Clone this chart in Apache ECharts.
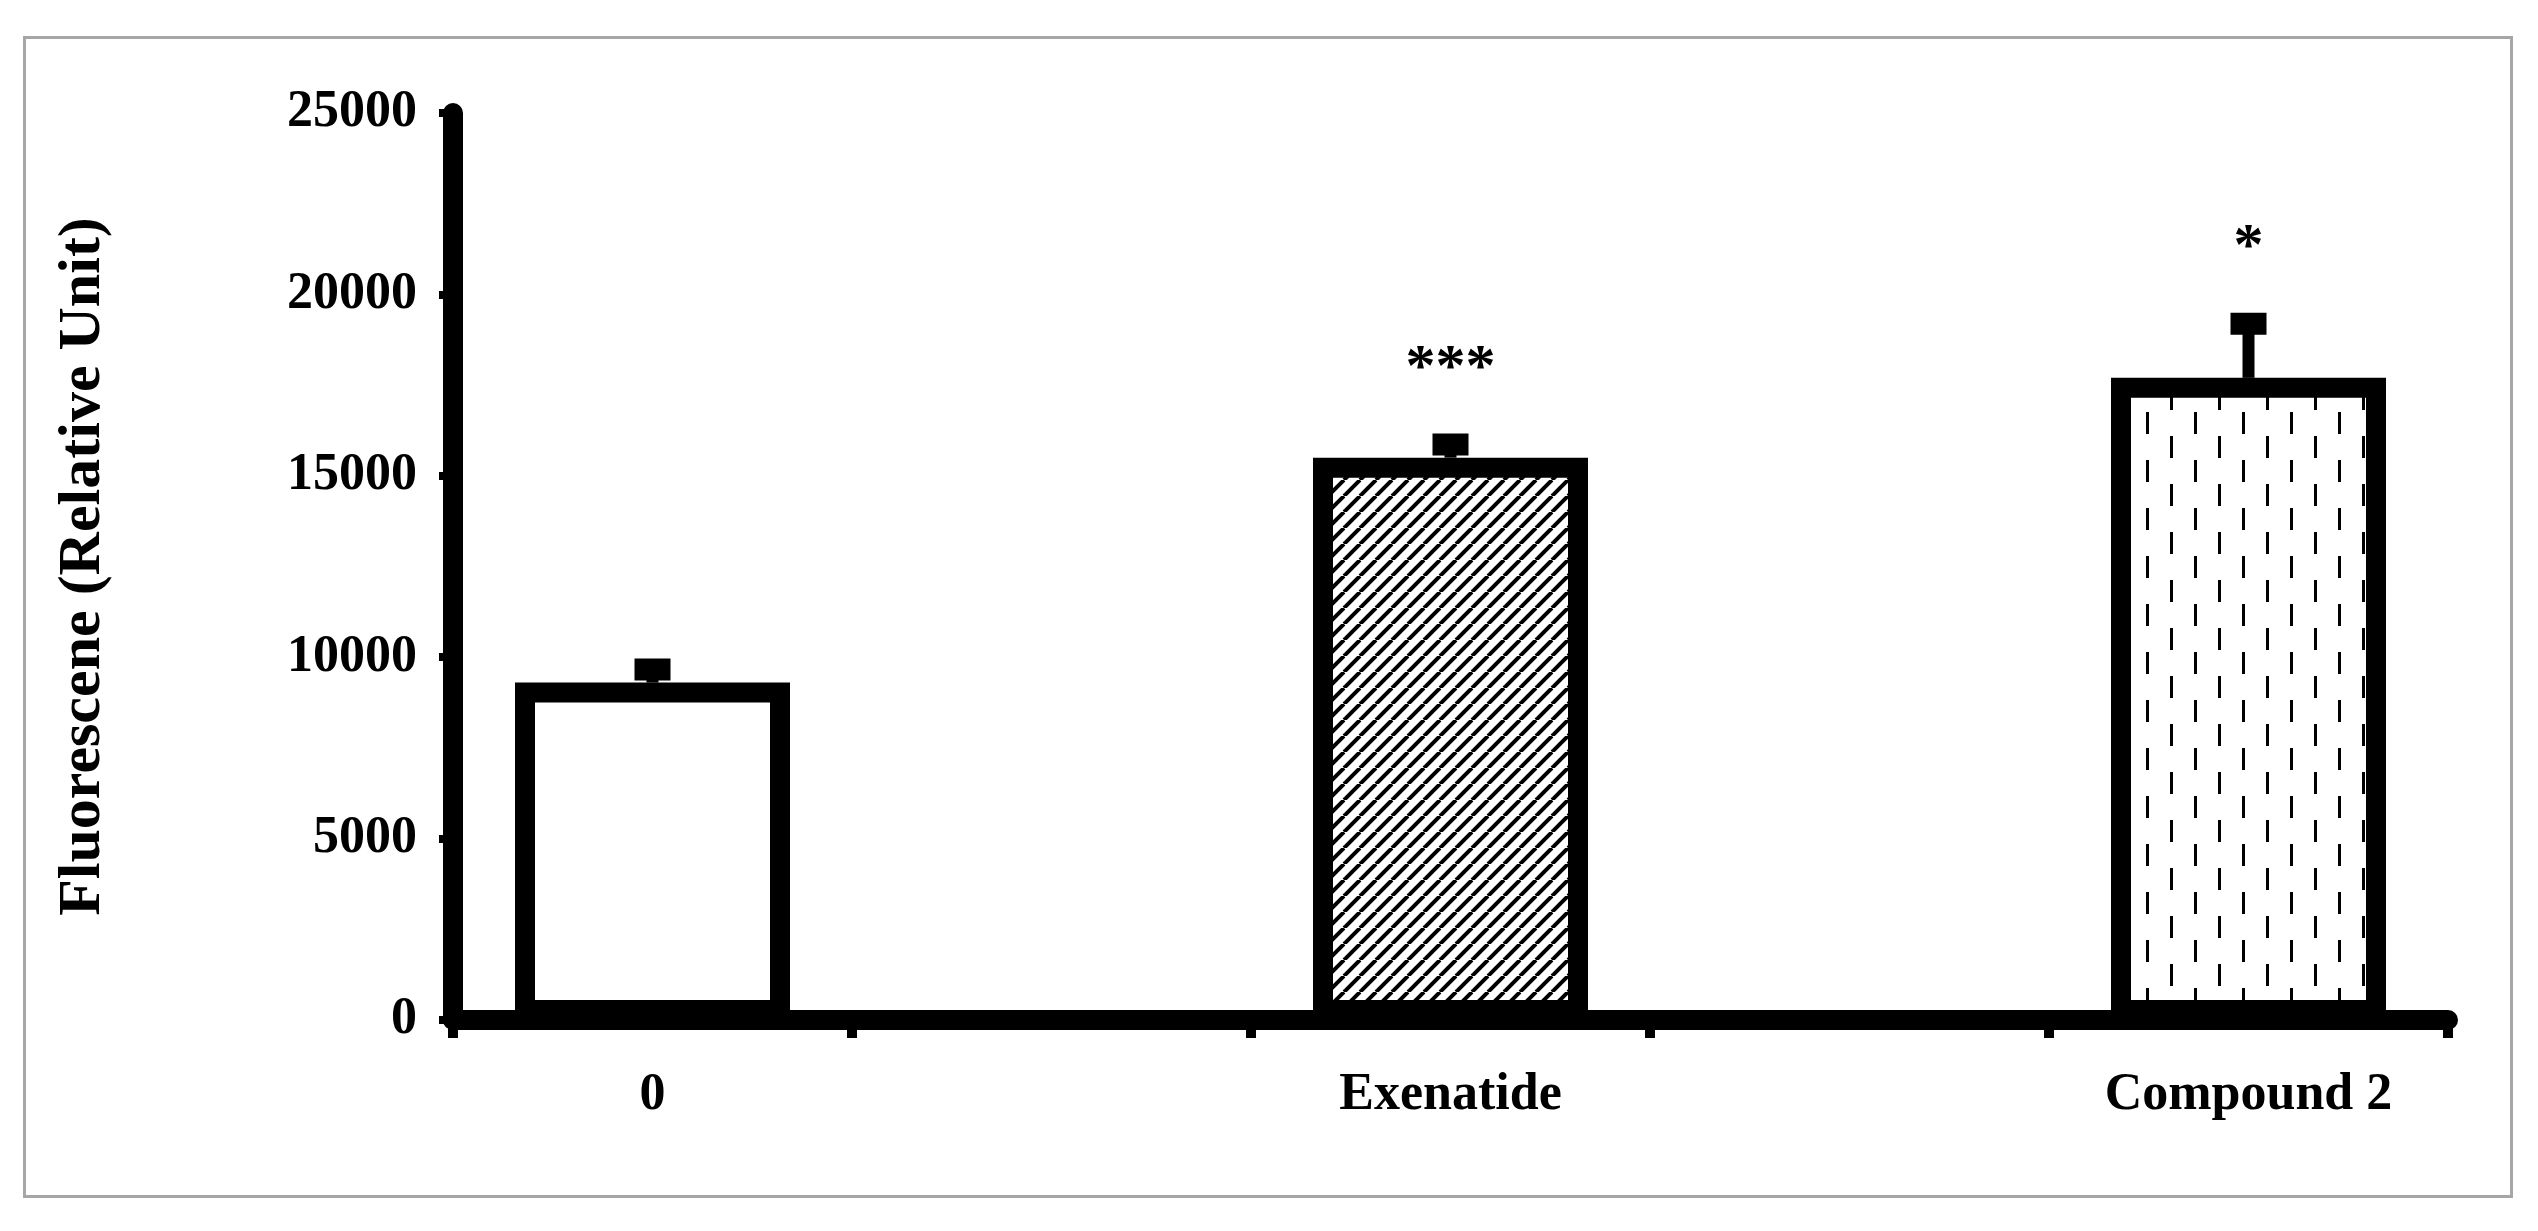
<!DOCTYPE html>
<html>
<head>
<meta charset="utf-8">
<script src="https://cdn.jsdelivr.net/npm/echarts@6/dist/echarts.min.js"></script>
<style>
  html, body { margin: 0; padding: 0; background: #fff; }
  #frame { position: absolute; left: 23px; top: 36px; width: 2484px; height: 1156px; border: 3px solid #a6a6a6; }
  #chart { position: absolute; left: 0; top: 0; width: 2538px; height: 1231px; }
</style>
</head>
<body>
<div id="frame"></div>
<div id="chart"></div>
<script>
// empty slots between the three groups, as in the original figure
const categories = ['0', '', 'Exenatide', '', 'Compound 2']
const values = [9300, null, 15500, null, 17700]
const errTops = [9800, null, 16000, null, 19330]
const marks = ['', '', '***', '', '*']
const yTicks = [0, 5000, 10000, 15000, 20000, 25000]

function stripes() {
  const c = document.createElement('canvas')
  c.width = 16; c.height = 16
  const g = c.getContext('2d')
  g.fillStyle = '#fff'; g.fillRect(0, 0, 16, 16)
  g.strokeStyle = '#000'; g.lineWidth = 4
  for (let k = -16; k <= 32; k += 16) {
    g.beginPath(); g.moveTo(k, 16); g.lineTo(k + 16, 0); g.stroke()
  }
  return c
}

function dashes() {
  const c = document.createElement('canvas')
  c.width = 48; c.height = 48
  const g = c.getContext('2d')
  g.fillStyle = '#fff'; g.fillRect(0, 0, 48, 48)
  g.fillStyle = '#000'
  g.fillRect(10, 4, 3, 22)
  g.fillRect(34, 28, 3, 22)
  g.fillRect(34, 0, 3, 2)
  return c
}

const fills = ['#ffffff', '#ffffff', { image: stripes(), repeat: 'repeat' }, '#ffffff', { image: dashes(), repeat: 'repeat' }]

const chart = echarts.init(document.getElementById('chart'))
chart.setOption({
  animation: false,
  grid: { left: 453, right: 90, top: 113, bottom: 211 },
  xAxis: {
    type: 'category',
    data: categories,
    axisLine: { lineStyle: { color: '#000', width: 20 } },
    axisTick: { show: true, length: 18, lineStyle: { color: '#000', width: 10 } },
    axisLabel: { color: '#000', fontFamily: 'Liberation Serif', fontWeight: 'bold', fontSize: 52, margin: 50, interval: 0 }
  },
  yAxis: {
    type: 'value',
    min: 0, max: 25000, interval: 5000,
    name: 'Fluorescene (Relative Unit)',
    nameLocation: 'middle',
    nameGap: 340,
    nameTextStyle: { color: '#000', fontFamily: 'Liberation Serif', fontWeight: 'bold', fontSize: 60 },
    splitLine: { show: false },
    axisLine: { show: true, lineStyle: { color: '#000', width: 20 } },
    axisTick: { show: true, length: 14, lineStyle: { color: '#000', width: 8 } },
    axisLabel: {
      color: '#000', fontFamily: 'Liberation Serif', fontWeight: 'bold', fontSize: 52, margin: 36,
      formatter: v => yTicks.includes(v) ? String(v) : ''
    }
  },
  series: [
    {
      type: 'bar',
      barWidth: 275,
      data: values.map((v, i) => ({ value: v, itemStyle: { color: fills[i] } })),
      itemStyle: { borderColor: '#000', borderWidth: 20 },
      z: 2
    },
    {
      type: 'custom',
      z: 3,
      data: values.map((v, i) => [i, v, errTops[i]]).filter(d => d[1] != null),
      renderItem: (params, api) => {
        const b = api.coord([api.value(0), api.value(1)])
        const t = api.coord([api.value(0), api.value(2)])
        const m = marks[api.value(0)]
        return {
          type: 'group',
          children: [
            { type: 'line', shape: { x1: b[0], y1: b[1], x2: t[0], y2: t[1] }, style: { stroke: '#000', lineWidth: 12 } },
            { type: 'rect', shape: { x: t[0] - 18, y: t[1] - 6, width: 36, height: 22 }, style: { fill: '#000' } },
            { type: 'text', style: { x: t[0], y: t[1] - 40, text: m, align: 'center', verticalAlign: 'bottom',
              fill: '#000', font: 'bold 60px "Liberation Serif"' } }
          ]
        }
      }
    }
  ]
})
</script>
</body>
</html>
